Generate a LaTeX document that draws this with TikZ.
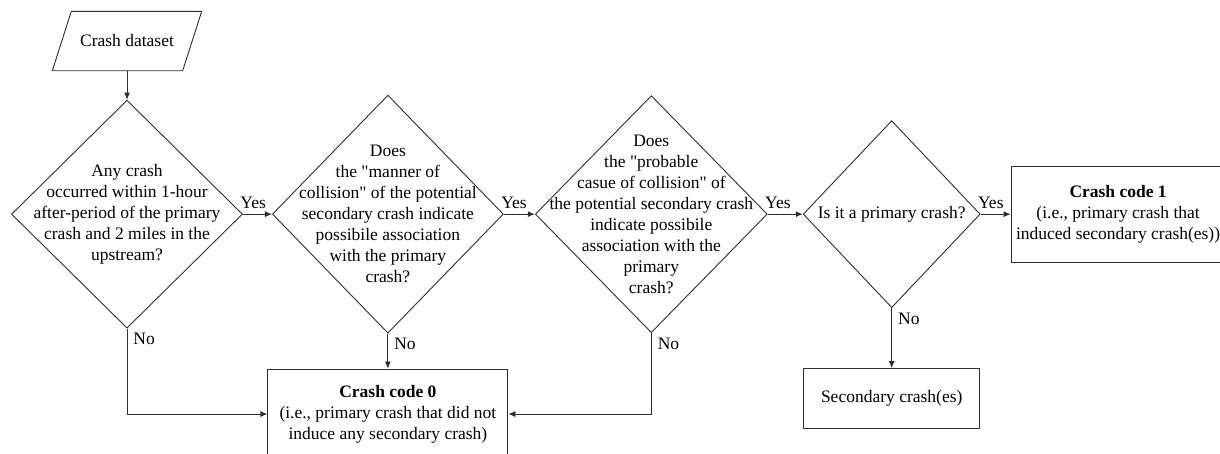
\documentclass[tikz,border=0pt]{standalone}
\usepackage{fontspec}
\setmainfont{Liberation Serif}
\usepackage{tikz}
\usetikzlibrary{arrows.meta,positioning,shapes.geometric}
\definecolor{edge}{HTML}{2E2E2E}

\begin{document}
\begin{tikzpicture}[
  x=1pt, y=1pt,
  font=\fontsize{17.5}{21}\selectfont,
  box/.style={draw=edge,line width=0.9pt,align=center,inner sep=0pt},
  dec/.style={diamond,draw=edge,line width=0.9pt,inner sep=0pt},
  qtext/.style={align=center,inner sep=0pt},
  arr/.style={-{Latex[length=7pt,width=6pt]},line width=0.9pt,draw=edge},
  yeslbl/.style={above right,inner xsep=0pt,inner ysep=5pt,xshift=-3pt},
  nolbl/.style={below right,inner xsep=6pt,inner ysep=4pt}
]
\useasboundingbox (0,0) rectangle (1220,-453);
\node[minimum width=130pt,minimum height=59pt,inner sep=0pt] (data) at (127,-41) {Crash dataset};
\draw[edge,line width=0.9pt] ([xshift=-9.5pt]data.south west) -- ([xshift=-9.5pt]data.south east)
  -- ([xshift=9.5pt]data.north east) -- ([xshift=9.5pt]data.north west) -- cycle;
\node[dec,minimum width=231pt,minimum height=228pt,below=29pt of data,
  label={[qtext]center:{Any crash\\occurred within 1-hour\\after-period of the primary\\crash and 2 miles in the\\upstream?}}] (q1) {};
\node[dec,minimum width=231pt,minimum height=238pt,right=29pt of q1,
  label={[qtext]center:{Does\\the \textquotedbl manner of\\collision\textquotedbl{} of the potential\\secondary crash indicate\\possibile association\\with the primary\\crash?}}] (q2) {};
\node[dec,minimum width=232pt,minimum height=237pt,right=31pt of q2,
  label={[qtext]center:{Does\\the \textquotedbl probable\\casue of collision\textquotedbl{} of\\the potential secondary crash\\indicate possibile\\association with the\\primary\\crash?}}] (q3) {};
\node[dec,minimum width=177pt,minimum height=187pt,right=35pt of q3,
  label={[qtext]center:{Is it a primary crash?}}] (q4) {};
\node[box,minimum width=214pt,minimum height=96pt,right=30pt of q4] (c1)
  {\textbf{Crash code 1}\\(i.e., primary crash that\\induced secondary crash(es))};
\node[box,minimum width=240pt,minimum height=90pt,below=35pt of q2] (c0)
  {\textbf{Crash code 0}\\(i.e., primary crash that did not\\induce any secondary crash)};
\node[box,minimum width=176pt,minimum height=60pt,below=60pt of q4] (sec) {Secondary crash(es)};
% connectors
\draw[arr] (data.south) -- (q1.north);
\draw[arr] (q1.east) -- node[yeslbl,pos=0]{Yes} (q2.west);
\draw[arr] (q2.east) -- node[yeslbl,pos=0]{Yes} (q3.west);
\draw[arr] (q3.east) -- node[yeslbl,pos=0]{Yes} (q4.west);
\draw[arr] (q4.east) -- node[yeslbl,pos=0]{Yes} (c1.west);
\draw[arr] (q1.south) |- node[nolbl,pos=0]{No} (c0.west);
\draw[arr] (q2.south) -- node[nolbl,pos=0]{No} (c0.north);
\draw[arr] (q3.south) |- node[nolbl,pos=0]{No} (c0.east);
\draw[arr] (q4.south) -- node[nolbl,pos=0]{No} (sec.north);
\end{tikzpicture}
\end{document}
